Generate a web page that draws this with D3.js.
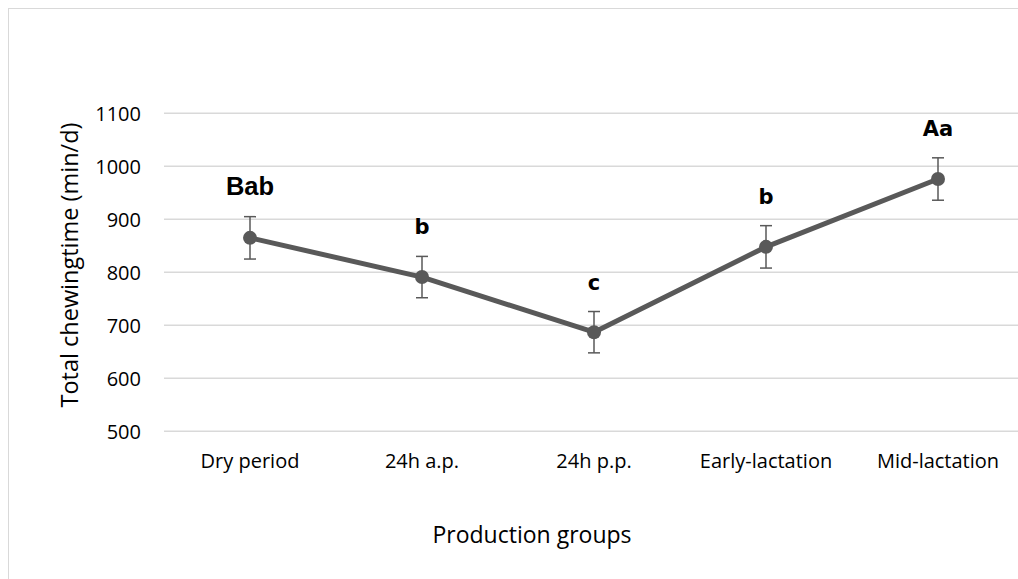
<!DOCTYPE html>
<html>
<head>
<meta charset="utf-8">
<script src="https://cdn.jsdelivr.net/npm/d3@7"></script>
<style>
  html, body { margin: 0; padding: 0; background: #fff; }
  svg { display: block; }
</style>
</head>
<body>
<svg id="chart" width="1018" height="579"></svg>
<script>
const categories = ["Dry period", "24h a.p.", "24h p.p.", "Early-lactation", "Mid-lactation"];
const values = [865, 791, 687, 848, 976];
const errors = [40, 39, 39, 40, 40];
const letters = ["Bab", "b", "c", "b", "Aa"];
const yTicks = [500, 600, 700, 800, 900, 1000, 1100];

const svg = d3.select("#chart");
const W = 1018, H = 579;
const grey = "#595959";

// outer frame
svg.append("rect")
  .attr("x", 8.5).attr("y", 8.5)
  .attr("width", W + 20).attr("height", H + 20)
  .attr("fill", "#fff").attr("stroke", "#d9d9d9").attr("stroke-width", 1);

const x = d3.scaleBand().domain(categories).range([164, 1024]).padding(0);
const y = d3.scaleLinear().domain([500, 1100]).range([431.3, 113.3]);
const cx = d => x(d) + x.bandwidth() / 2;

// gridlines
svg.append("g").selectAll("line").data(yTicks).join("line")
  .attr("x1", 164).attr("x2", W + 10)
  .attr("y1", d => y(d)).attr("y2", d => y(d))
  .attr("stroke", "#d9d9d9").attr("stroke-width", 1.5);

// y axis tick labels
const yAxis = d3.axisLeft(y).tickValues(yTicks).tickFormat(d3.format("d")).tickSize(0).tickPadding(0);
const gy = svg.append("g").attr("transform", "translate(141,0)").call(yAxis);
gy.select(".domain").remove();
gy.selectAll("text")
  .attr("font-family", "Open Sans, sans-serif")
  .attr("font-size", 20)
  .attr("fill", "#000")
  .attr("dy", "0.35em");

// x axis tick labels
const xAxis = d3.axisBottom(x).tickSize(0).tickPadding(0);
const gx = svg.append("g").attr("transform", "translate(0,468)").call(xAxis);
gx.select(".domain").remove();
gx.selectAll("text")
  .attr("font-family", "Open Sans, sans-serif")
  .attr("font-size", 20)
  .attr("fill", "#000")
  .attr("dy", 0);

const data = categories.map((c, i) => ({ c, v: values[i], e: errors[i], l: letters[i] }));

// line
const line = d3.line().x(d => cx(d.c)).y(d => y(d.v));
svg.append("path").datum(data)
  .attr("d", line)
  .attr("fill", "none").attr("stroke", grey).attr("stroke-width", 5)
  .attr("stroke-linejoin", "round");

// error bars
const eb = svg.append("g").attr("stroke", grey).attr("stroke-width", 1.5);
eb.selectAll("line.v").data(data).join("line").attr("class", "v")
  .attr("x1", d => cx(d.c)).attr("x2", d => cx(d.c))
  .attr("y1", d => y(d.v + d.e)).attr("y2", d => y(d.v - d.e));
eb.selectAll("line.t").data(data).join("line").attr("class", "t")
  .attr("x1", d => cx(d.c) - 6).attr("x2", d => cx(d.c) + 6)
  .attr("y1", d => y(d.v + d.e)).attr("y2", d => y(d.v + d.e));
eb.selectAll("line.b").data(data).join("line").attr("class", "b")
  .attr("x1", d => cx(d.c) - 6).attr("x2", d => cx(d.c) + 6)
  .attr("y1", d => y(d.v - d.e)).attr("y2", d => y(d.v - d.e));

// markers
svg.append("g").selectAll("circle").data(data).join("circle")
  .attr("cx", d => cx(d.c)).attr("cy", d => y(d.v)).attr("r", 7)
  .attr("fill", grey);

// significance letters
svg.append("g").selectAll("text").data(data).join("text")
  .attr("x", d => cx(d.c))
  .attr("y", d => y(d.v + d.e) - 22)
  .attr("text-anchor", "middle")
  .attr("font-family", (d, i) => i === 0 ? "Liberation Sans, Arial, sans-serif" : "DejaVu Sans, sans-serif")
  .attr("font-weight", "bold")
  .attr("font-size", (d, i) => i === 0 ? 25.5 : 21)
  .attr("fill", "#000")
  .text(d => d.l);

// axis titles
svg.append("text")
  .attr("x", 532).attr("y", 543)
  .attr("text-anchor", "middle")
  .attr("font-family", "Open Sans, sans-serif")
  .attr("font-size", 23)
  .attr("fill", "#000")
  .text("Production groups");

svg.append("text")
  .attr("transform", "translate(78,265) rotate(-90)")
  .attr("text-anchor", "middle")
  .attr("font-family", "Open Sans, sans-serif")
  .attr("font-size", 23.5)
  .attr("fill", "#000")
  .text("Total chewingtime (min/d)");
</script>
</body>
</html>
